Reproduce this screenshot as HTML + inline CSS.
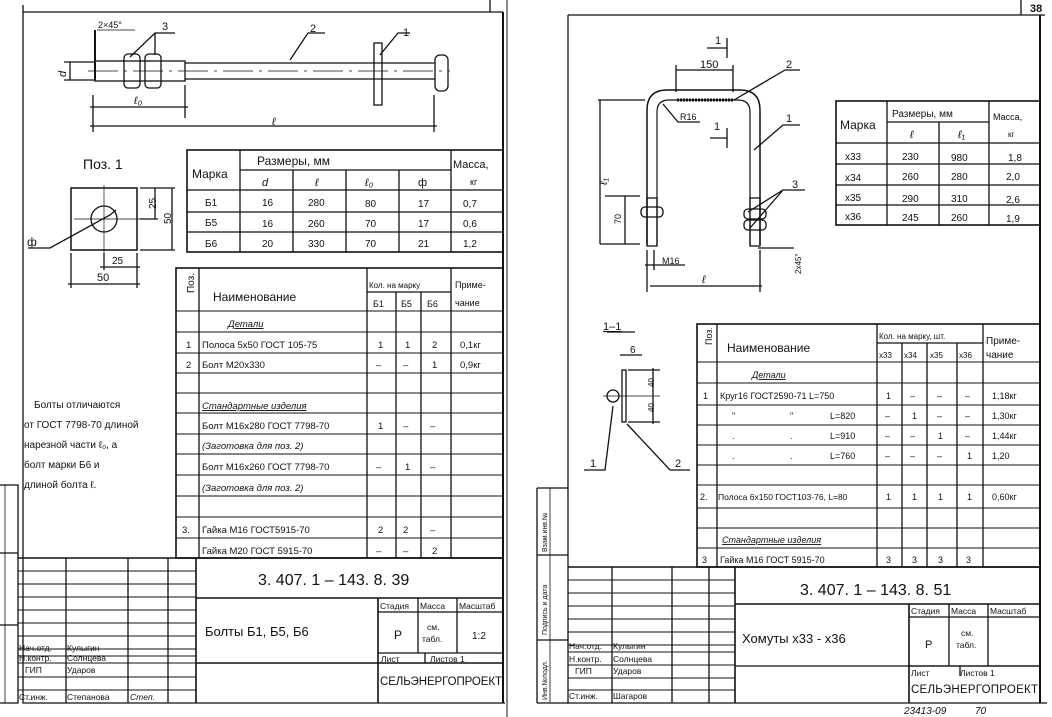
<!DOCTYPE html>
<html><head><meta charset="utf-8"><style>
html,body{margin:0;padding:0;background:#fff;}
svg{display:block;}
text{font-family:"Liberation Sans",sans-serif;fill:#111;}
</style></head><body>
<svg width="1052" height="717" viewBox="0 0 1052 717" xmlns="http://www.w3.org/2000/svg">
<g stroke="#111" fill="none" stroke-width="1.3">
<!-- LEFT PAGE FRAME -->
<polyline points="23,5 23,703 505,703"/>
<line x1="23" y1="12" x2="503" y2="12"/>
<line x1="503" y1="12" x2="503" y2="703" stroke-width="2"/>
<line x1="490" y1="0" x2="490" y2="12"/>
<line x1="507" y1="0" x2="507" y2="717" stroke-width="1"/>
<!-- left stamp strip -->
<polyline points="0,485 18,485 18,703 0,703"/>
<line x1="0" y1="553" x2="18" y2="553"/>
<line x1="0" y1="625" x2="18" y2="625"/>
<line x1="5" y1="485" x2="5" y2="703" stroke-width="0.8"/>

<!-- bolt drawing -->
<line x1="95" y1="30" x2="95" y2="80" stroke-width="2"/>
<rect x="95" y="61" width="90" height="20"/>
<rect x="124" y="54" width="16" height="34" rx="4"/>
<rect x="145" y="54" width="16" height="34" rx="4"/>
<line x1="185" y1="63" x2="435" y2="63"/>
<line x1="185" y1="79" x2="435" y2="79"/>
<line x1="88" y1="71" x2="450" y2="71" stroke-dasharray="30,6,3,6" stroke-width="0.8"/>
<rect x="374" y="43" width="8" height="62"/>
<rect x="435" y="55" width="13" height="36" rx="5"/>
<line x1="64" y1="62" x2="95" y2="62"/><line x1="64" y1="80" x2="95" y2="80"/>
<line x1="70" y1="62" x2="70" y2="80"/>
<line x1="93" y1="95" x2="93" y2="132"/><line x1="185" y1="85" x2="185" y2="118"/><line x1="434" y1="95" x2="434" y2="132"/>
<line x1="90" y1="107" x2="188" y2="107"/><line x1="90" y1="126" x2="437" y2="126"/>
<polyline points="130,57 155,33 175,33"/><line x1="155" y1="33" x2="155" y2="55"/>
<polyline points="290,60 308,33 325,33"/>
<polyline points="380,55 398,33 410,33"/>
<line x1="97" y1="30" x2="135" y2="30" stroke-width="0.8"/>
<!-- pos 1 plate -->
<rect x="71" y="188" width="66" height="62" stroke-width="1.5"/>
<circle cx="104" cy="219" r="13"/>
<line x1="74" y1="219" x2="155" y2="219" stroke-width="0.7"/>
<line x1="104" y1="185" x2="104" y2="262" stroke-width="0.7"/>
<polyline points="28,248 50,248 110,215 116,210"/>
<line x1="140" y1="188" x2="175" y2="188"/><line x1="140" y1="250" x2="175" y2="250"/><line x1="140" y1="219" x2="158" y2="219"/>
<line x1="172" y1="188" x2="172" y2="250"/><line x1="155" y1="188" x2="155" y2="219"/>
<line x1="71" y1="253" x2="71" y2="288"/><line x1="137" y1="253" x2="137" y2="288"/><line x1="104" y1="253" x2="104" y2="270"/>
<line x1="100" y1="267" x2="140" y2="267"/><line x1="68" y1="284" x2="140" y2="284"/>

<!-- Table 1 left -->
<rect x="187" y="150" width="316" height="102" stroke-width="1.6"/>
<line x1="240" y1="150" x2="240" y2="252"/><line x1="451" y1="150" x2="451" y2="252"/>
<line x1="240" y1="170" x2="451" y2="170"/>
<line x1="293" y1="170" x2="293" y2="252"/><line x1="346" y1="170" x2="346" y2="252"/><line x1="399" y1="170" x2="399" y2="252"/>
<line x1="187" y1="190" x2="503" y2="190"/><line x1="187" y1="212" x2="503" y2="212"/><line x1="187" y1="232" x2="503" y2="232"/>

<!-- spec table left -->
<rect x="176" y="268" width="327" height="290" stroke-width="1.6"/>
<line x1="199" y1="268" x2="199" y2="558"/><line x1="367" y1="268" x2="367" y2="558"/>
<line x1="396" y1="292" x2="396" y2="558"/><line x1="421" y1="292" x2="421" y2="558"/><line x1="451" y1="268" x2="451" y2="558"/>
<line x1="367" y1="292" x2="451" y2="292"/>
<g stroke-width="1">
<line x1="176" y1="311" x2="503" y2="311"/><line x1="176" y1="332" x2="503" y2="332"/><line x1="176" y1="353" x2="503" y2="353"/>
<line x1="176" y1="373" x2="503" y2="373"/><line x1="176" y1="393" x2="503" y2="393"/><line x1="176" y1="413" x2="503" y2="413"/>
<line x1="176" y1="434" x2="503" y2="434"/><line x1="176" y1="454" x2="503" y2="454"/><line x1="176" y1="475" x2="503" y2="475"/>
<line x1="176" y1="496" x2="503" y2="496"/><line x1="176" y1="517" x2="503" y2="517"/><line x1="176" y1="538" x2="503" y2="538"/>
</g>
<!-- title block left -->
<line x1="18" y1="558" x2="503" y2="558" stroke-width="1.6"/>
<line x1="196" y1="558" x2="196" y2="703" stroke-width="1.6"/>
<line x1="66" y1="558" x2="66" y2="703"/><line x1="128" y1="558" x2="128" y2="703"/><line x1="168" y1="558" x2="168" y2="703"/>
<g stroke-width="0.9">
<line x1="18" y1="571" x2="196" y2="571"/><line x1="18" y1="584" x2="196" y2="584"/><line x1="18" y1="597" x2="196" y2="597"/>
<line x1="18" y1="610" x2="196" y2="610"/><line x1="18" y1="623" x2="196" y2="623"/><line x1="18" y1="636" x2="196" y2="636"/>
<line x1="18" y1="649" x2="196" y2="649"/><line x1="18" y1="656" x2="196" y2="656"/><line x1="18" y1="663" x2="196" y2="663"/>
<line x1="18" y1="677" x2="196" y2="677"/><line x1="18" y1="690" x2="196" y2="690"/>
</g>
<line x1="196" y1="598" x2="503" y2="598" stroke-width="1.6"/>
<line x1="378" y1="598" x2="378" y2="703" stroke-width="1.6"/>
<line x1="378" y1="612" x2="503" y2="612"/>
<line x1="418" y1="598" x2="418" y2="653"/><line x1="457" y1="598" x2="457" y2="653"/>
<line x1="378" y1="653" x2="503" y2="653"/><line x1="196" y1="663" x2="503" y2="663" stroke-width="1.4"/>
<line x1="425" y1="653" x2="425" y2="663"/>

<!-- RIGHT PAGE FRAME -->
<polyline points="568,15 568,703 1047,703"/>
<line x1="568" y1="15" x2="1045" y2="15"/>
<line x1="1040" y1="15" x2="1040" y2="703" stroke-width="2"/>
<line x1="1021" y1="0" x2="1021" y2="15"/>
<polyline points="537,488 568,488"/><line x1="537" y1="488" x2="537" y2="703"/><line x1="537" y1="703" x2="568" y2="703"/>
<line x1="550" y1="488" x2="550" y2="703" stroke-width="0.8"/>
<line x1="537" y1="555" x2="568" y2="555"/><line x1="537" y1="640" x2="568" y2="640"/>

<!-- U bolt -->
<path d="M647,245 L647,110 Q647,90 667,90 L740,90 Q760,90 760,110 L760,245" stroke-width="1.5"/>
<path d="M657,245 L657,112 Q657,100 669,100 L738,100 Q750,100 750,112 L750,245" stroke-width="1.2"/>
<line x1="677" y1="100" x2="733" y2="100" stroke-dasharray="2,1" stroke-width="3"/>
<rect x="647" y="198" width="10" height="48"/>
<rect x="750" y="198" width="10" height="48"/>
<rect x="641" y="207" width="22" height="10" rx="4"/>
<rect x="744" y="209" width="22" height="10" rx="4"/>
<rect x="744" y="220" width="22" height="10" rx="4"/>
<line x1="598" y1="100" x2="645" y2="100"/><line x1="600" y1="244" x2="640" y2="244"/><line x1="605" y1="196" x2="640" y2="196"/>
<line x1="600" y1="100" x2="600" y2="244"/><line x1="625" y1="196" x2="625" y2="244"/>
<line x1="676" y1="65" x2="676" y2="92"/><line x1="733" y1="65" x2="733" y2="92"/><line x1="676" y1="70" x2="733" y2="70"/>
<line x1="647" y1="250" x2="647" y2="292"/><line x1="654" y1="250" x2="654" y2="270"/><line x1="760" y1="250" x2="760" y2="292"/>
<line x1="645" y1="265" x2="685" y2="265"/><line x1="650" y1="286" x2="762" y2="286"/>
<line x1="758" y1="248" x2="794" y2="248"/>
<polyline points="663,104 678,122 700,122"/>
<polyline points="734,100 785,70 800,70"/>
<polyline points="754,150 783,125 800,125"/>
<polyline points="748,212 783,190 805,190"/><line x1="750" y1="228" x2="783" y2="190"/>
<polyline points="707,48 727,48 727,38"/><line x1="727" y1="48" x2="727" y2="58"/>
<polyline points="710,138 727,138 727,128"/><line x1="727" y1="138" x2="727" y2="148"/>
<!-- section 1-1 -->
<line x1="607" y1="332" x2="635" y2="332"/>
<rect x="622" y="370" width="4" height="52"/>
<circle cx="613" cy="396" r="6"/>
<line x1="603" y1="396" x2="660" y2="396" stroke-width="0.8"/>
<line x1="628" y1="370" x2="660" y2="370"/><line x1="628" y1="422" x2="660" y2="422"/>
<line x1="653" y1="368" x2="653" y2="424"/>
<polyline points="584,470 605,470 613,406"/>
<polyline points="627,424 670,470 690,470"/>
<line x1="620" y1="355" x2="642" y2="355"/>

<!-- Table1 right -->
<rect x="836" y="101" width="204" height="124" stroke-width="1.6"/>
<line x1="887" y1="101" x2="887" y2="225"/><line x1="989" y1="101" x2="989" y2="225"/>
<line x1="887" y1="122" x2="989" y2="122"/><line x1="939" y1="122" x2="939" y2="225"/>
<line x1="836" y1="143" x2="1040" y2="143"/><line x1="836" y1="164" x2="1040" y2="164"/><line x1="836" y1="185" x2="1040" y2="185"/><line x1="836" y1="205" x2="1040" y2="205"/>

<!-- spec table right -->
<rect x="697" y="324" width="343" height="243" stroke-width="1.6"/>
<line x1="717" y1="324" x2="717" y2="567"/><line x1="877" y1="324" x2="877" y2="567"/>
<line x1="902" y1="343" x2="902" y2="567"/><line x1="927" y1="343" x2="927" y2="567"/><line x1="957" y1="343" x2="957" y2="567"/><line x1="983" y1="324" x2="983" y2="567"/>
<line x1="877" y1="343" x2="983" y2="343"/>
<g stroke-width="1">
<line x1="697" y1="362" x2="1040" y2="362"/><line x1="697" y1="383" x2="1040" y2="383"/><line x1="697" y1="405" x2="1040" y2="405"/>
<line x1="697" y1="425" x2="1040" y2="425"/><line x1="697" y1="445" x2="1040" y2="445"/><line x1="697" y1="465" x2="1040" y2="465"/>
<line x1="697" y1="485" x2="1040" y2="485"/><line x1="697" y1="508" x2="1040" y2="508"/><line x1="697" y1="528" x2="1040" y2="528"/><line x1="697" y1="548" x2="1040" y2="548"/>
</g>
<!-- title block right -->
<line x1="568" y1="567" x2="1040" y2="567" stroke-width="1.6"/>
<line x1="735" y1="567" x2="735" y2="703" stroke-width="1.6"/>
<line x1="612" y1="567" x2="612" y2="703"/><line x1="672" y1="567" x2="672" y2="703"/><line x1="709" y1="567" x2="709" y2="703"/>
<g stroke-width="0.9">
<line x1="568" y1="580" x2="735" y2="580"/><line x1="568" y1="593" x2="735" y2="593"/><line x1="568" y1="606" x2="735" y2="606"/>
<line x1="568" y1="619" x2="735" y2="619"/><line x1="568" y1="632" x2="735" y2="632"/><line x1="568" y1="645" x2="735" y2="645"/>
<line x1="568" y1="652" x2="735" y2="652"/><line x1="568" y1="665" x2="735" y2="665"/><line x1="568" y1="678" x2="735" y2="678"/><line x1="568" y1="690" x2="735" y2="690"/>
</g>
<line x1="735" y1="604" x2="1040" y2="604" stroke-width="1.6"/>
<line x1="909" y1="604" x2="909" y2="703" stroke-width="1.6"/>
<line x1="909" y1="617" x2="1040" y2="617"/>
<line x1="949" y1="604" x2="949" y2="666"/><line x1="988" y1="604" x2="988" y2="666"/>
<line x1="909" y1="666" x2="1040" y2="666"/><line x1="735" y1="666" x2="1040" y2="666" stroke-width="1.3"/>
<line x1="960" y1="666" x2="960" y2="676"/>
</g>

<!-- TEXT LEFT -->
<g font-size="11">
<text x="98" y="28" font-size="9">2×45°</text>
<text x="162" y="30">3</text><text x="310" y="32">2</text><text x="403" y="36">1</text>
<text x="56" y="75" transform="rotate(-90 62 71)" font-style="italic">d</text>
<text x="134" y="104" font-style="italic">ℓ₀</text><text x="272" y="125" font-style="italic">ℓ</text>
<text x="83" y="169" font-size="14">Поз. 1</text>
<text x="148" y="209" font-size="10" transform="rotate(-90 152 205)">25</text>
<text x="163" y="224" font-size="10" transform="rotate(-90 167 220)">50</text>
<text x="112" y="264" font-size="10">25</text><text x="97" y="281" font-size="11">50</text>
<text x="27" y="246" font-size="12">ф</text>
<text x="192" y="178" font-size="12">Марка</text>
<text x="257" y="165" font-size="12">Размеры, мм</text>
<text x="453" y="168" font-size="11">Масса,</text><text x="470" y="185" font-size="9">кг</text>
<text x="262" y="186" font-style="italic">d</text><text x="315" y="186" font-style="italic">ℓ</text><text x="365" y="186" font-style="italic">ℓ₀</text><text x="418" y="186">ф</text>
<g font-size="10">
<text x="205" y="206">Б1</text><text x="262" y="206">16</text><text x="308" y="206">280</text><text x="365" y="207">80</text><text x="418" y="207">17</text><text x="463" y="207">0,7</text>
<text x="205" y="226">Б5</text><text x="262" y="227">16</text><text x="308" y="227">260</text><text x="365" y="227">70</text><text x="418" y="227">17</text><text x="463" y="227">0,6</text>
<text x="205" y="247">Б6</text><text x="262" y="247">20</text><text x="308" y="247">330</text><text x="365" y="247">70</text><text x="418" y="247">21</text><text x="463" y="247">1,2</text>
</g>
<text x="193" y="300" font-size="10" transform="rotate(-90 190 296)">Поз.</text>
<text x="213" y="301" font-size="12">Наименование</text>
<text x="369" y="288" font-size="8">Кол. на марку</text>
<text x="455" y="288" font-size="9">Приме-</text><text x="455" y="306" font-size="9">чание</text>
<g font-size="9"><text x="373" y="307">Б1</text><text x="401" y="307">Б5</text><text x="427" y="307">Б6</text></g>
<g font-size="9.5">
<text x="228" y="327" text-decoration="underline" font-style="italic">Детали</text>
<text x="186" y="348">1</text><text x="202" y="348">Полоса 5х50 ГОСТ 105-75</text><text x="378" y="348">1</text><text x="405" y="348">1</text><text x="432" y="348">2</text><text x="460" y="348">0,1кг</text>
<text x="186" y="368">2</text><text x="202" y="368">Болт М20х330</text><text x="376" y="368">–</text><text x="403" y="368">–</text><text x="432" y="368">1</text><text x="460" y="368">0,9кг</text>
<text x="202" y="409" text-decoration="underline" font-style="italic">Стандартные изделия</text>
<text x="202" y="429">Болт М16х280 ГОСТ 7798-70</text><text x="378" y="429">1</text><text x="403" y="429">–</text><text x="430" y="429">–</text>
<text x="202" y="449" font-style="italic">(Заготовка для поз. 2)</text>
<text x="202" y="470">Болт М16х260 ГОСТ 7798-70</text><text x="376" y="470">–</text><text x="405" y="470">1</text><text x="430" y="470">–</text>
<text x="202" y="491" font-style="italic">(Заготовка для поз. 2)</text>
<text x="182" y="533">3.</text><text x="202" y="533">Гайка М16 ГОСТ5915-70</text><text x="378" y="533">2</text><text x="403" y="533">2</text><text x="430" y="533">–</text>
<text x="202" y="554">Гайка М20 ГОСТ 5915-70</text><text x="376" y="554">–</text><text x="403" y="554">–</text><text x="432" y="554">2</text>
</g>
<g font-size="10">
<text x="34" y="408">Болты отличаются</text>
<text x="24" y="428">от ГОСТ 7798-70 длиной</text>
<text x="24" y="448">нарезной части ℓ₀, а</text>
<text x="24" y="468">болт марки Б6 и</text>
<text x="24" y="488">длиной болта ℓ.</text>
</g>
<text x="258" y="585" font-size="16">3. 407. 1 – 143. 8. 39</text>
<text x="205" y="636" font-size="13">Болты  Б1, Б5, Б6</text>
<g font-size="8.5">
<text x="380" y="609">Стадия</text><text x="420" y="609">Масса</text><text x="459" y="609">Масштаб</text>
<text x="394" y="639" font-size="12">Р</text><text x="427" y="630">см.</text><text x="422" y="642">табл.</text><text x="472" y="639" font-size="10">1:2</text>
<text x="381" y="662">Лист</text><text x="430" y="662">Листов 1</text>
<text x="380" y="685" font-size="11.5" textLength="122">СЕЛЬЭНЕРГОПРОЕКТ</text>
<text x="19" y="651">Нач.отд.</text><text x="67" y="651">Кулыгин</text>
<text x="19" y="661">Н.контр.</text><text x="67" y="661">Солнцева</text>
<text x="25" y="673">ГИП</text><text x="67" y="673">Ударов</text>
<text x="19" y="700">Ст.инж.</text><text x="67" y="700">Степанова</text><text x="130" y="700" font-style="italic">Степ.</text>
</g>
</g>

<!-- TEXT RIGHT -->
<g font-size="11">
<text x="1030" y="12" font-size="11" font-weight="bold">38</text>
<text x="715" y="44">1</text><text x="700" y="68">150</text><text x="786" y="68">2</text>
<text x="680" y="120" font-size="9">R16</text><text x="786" y="122">1</text><text x="714" y="130">1</text><text x="792" y="188">3</text>
<text x="599" y="185" font-style="italic" transform="rotate(-90 603 181)">ℓ₁</text>
<text x="613" y="224" font-size="9" transform="rotate(-90 617 220)">70</text>
<text x="662" y="264" font-size="9">М16</text><text x="702" y="283" font-style="italic">ℓ</text>
<text x="785" y="282" font-size="8" transform="rotate(-90 789 270)">2х45°</text>
<text x="603" y="330" text-decoration="underline">1–1</text>
<text x="630" y="353" font-size="10">6</text>
<text x="646" y="387" font-size="8" transform="rotate(-90 650 383)">40</text>
<text x="646" y="412" font-size="8" transform="rotate(-90 650 408)">40</text>
<text x="590" y="467">1</text><text x="675" y="467">2</text>
<text x="840" y="129" font-size="12">Марка</text>
<text x="892" y="117" font-size="10">Размеры, мм</text>
<text x="993" y="120" font-size="9">Масса,</text><text x="1008" y="137" font-size="8">кг</text>
<text x="910" y="138" font-style="italic">ℓ</text><text x="958" y="138" font-style="italic">ℓ₁</text>
<g font-size="10">
<text x="845" y="160">х33</text><text x="902" y="160">230</text><text x="951" y="161">980</text><text x="1008" y="161">1,8</text>
<text x="845" y="181">х34</text><text x="902" y="180">260</text><text x="951" y="180">280</text><text x="1006" y="180">2,0</text>
<text x="845" y="201">х35</text><text x="902" y="202">290</text><text x="951" y="202">310</text><text x="1006" y="203">2,6</text>
<text x="845" y="220">х36</text><text x="902" y="221">245</text><text x="951" y="221">260</text><text x="1006" y="222">1,9</text>
</g>
<text x="711" y="352" font-size="9" transform="rotate(-90 708 348)">Поз.</text>
<text x="727" y="352" font-size="12">Наименование</text>
<text x="879" y="339" font-size="8">Кол. на марку, шт.</text>
<text x="986" y="344" font-size="10">Приме-</text><text x="986" y="358" font-size="10">чание</text>
<g font-size="8"><text x="879" y="358">х33</text><text x="904" y="358">х34</text><text x="930" y="358">х35</text><text x="959" y="358">х36</text></g>
<g font-size="9">
<text x="752" y="378" text-decoration="underline" font-style="italic">Детали</text>
<text x="703" y="399">1</text><text x="720" y="399">Круг16 ГОСТ2590-71  L=750</text><text x="886" y="399">1</text><text x="910" y="399">–</text><text x="937" y="399">–</text><text x="965" y="399">–</text><text x="992" y="399">1,18кг</text>
<text x="732" y="419">"</text><text x="790" y="419">"</text><text x="830" y="419">L=820</text><text x="885" y="419">–</text><text x="912" y="419">1</text><text x="937" y="419">–</text><text x="965" y="419">–</text><text x="992" y="419">1,30кг</text>
<text x="732" y="439">.</text><text x="790" y="439">.</text><text x="830" y="439">L=910</text><text x="885" y="439">–</text><text x="910" y="439">–</text><text x="938" y="439">1</text><text x="965" y="439">–</text><text x="992" y="439">1,44кг</text>
<text x="732" y="459">.</text><text x="790" y="459">.</text><text x="830" y="459">L=760</text><text x="885" y="459">–</text><text x="910" y="459">–</text><text x="937" y="459">–</text><text x="967" y="459">1</text><text x="992" y="459">1,20</text>
<text x="700" y="500">2.</text><text x="718" y="500" font-size="8.5">Полоса 6х150 ГОСТ103-76, L=80</text><text x="886" y="500">1</text><text x="912" y="500">1</text><text x="938" y="500">1</text><text x="967" y="500">1</text><text x="992" y="500">0,60кг</text>
<text x="722" y="543" text-decoration="underline" font-style="italic">Стандартные изделия</text>
<text x="702" y="563">3</text><text x="720" y="563">Гайка М16 ГОСТ 5915-70</text><text x="886" y="563">3</text><text x="912" y="563">3</text><text x="938" y="563">3</text><text x="966" y="563">3</text>
</g>
<text x="800" y="595" font-size="16">3. 407. 1 – 143. 8. 51</text>
<text x="742" y="643" font-size="13">Хомуты  х33 - х36</text>
<g font-size="8.5">
<text x="911" y="614">Стадия</text><text x="951" y="614">Масса</text><text x="990" y="614">Масштаб</text>
<text x="925" y="648" font-size="11">Р</text><text x="961" y="636">см.</text><text x="956" y="648">табл.</text>
<text x="911" y="676">Лист</text><text x="960" y="676">Листов 1</text>
<text x="911" y="693" font-size="11.5" textLength="127">СЕЛЬЭНЕРГОПРОЕКТ</text>
<text x="569" y="649">Нач.отд.</text><text x="613" y="649">Кулыгин</text>
<text x="569" y="662">Н.контр.</text><text x="613" y="662">Солнцева</text>
<text x="575" y="674">ГИП</text><text x="613" y="674">Ударов</text>
<text x="569" y="699">Ст.инж.</text><text x="613" y="699">Шагаров</text>
<text x="904" y="714" font-style="italic" font-size="10">23413-09</text><text x="975" y="714" font-style="italic" font-size="10">70</text>
<text x="547" y="700" font-size="7" transform="rotate(-90 547 700)">Инв.№подл.</text>
<text x="547" y="635" font-size="7" transform="rotate(-90 547 635)">Подпись и дата</text>
<text x="547" y="552" font-size="7" transform="rotate(-90 547 552)">Взам.инв.№</text>
</g>
</g>
</svg>
</body></html>
